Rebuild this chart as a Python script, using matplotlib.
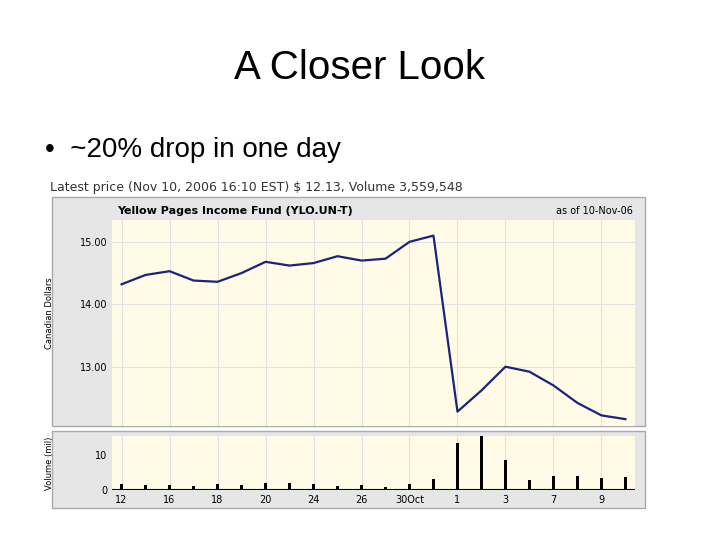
import matplotlib
matplotlib.use("Agg")
import matplotlib.pyplot as plt
from matplotlib.patches import Rectangle

# daily closes, Oct 12 - Nov 10 2006 (trading days)
price = [14.32, 14.47, 14.53, 14.38, 14.36, 14.50, 14.68, 14.62, 14.66, 14.77, 14.70,
         14.73, 15.00, 15.10, 12.28, 12.62, 13.00, 12.92, 12.70, 12.42, 12.22, 12.16]
volume = [1.7, 1.5, 1.5, 1.2, 1.7, 1.5, 2.0, 2.0, 1.7, 1.2, 1.5, 0.9, 1.7, 3.2,
          13.5, 15.5, 8.7, 2.8, 4.0, 4.0, 3.5, 3.7]
tick_idx = [0, 2, 4, 6, 8, 10, 12, 14, 16, 18, 20]
tick_lbl = ["12", "16", "18", "20", "24", "26", "30Oct", "1", "3", "7", "9"]

W, H = 720, 540
fig = plt.figure(figsize=(7.2, 5.4), dpi=100)


def box(x0, y0, x1, y1):
    return [x0 / W, 1 - y1 / H, (x1 - x0) / W, (y1 - y0) / H]


fig.text(0.5, 1 - 68 / H, "A Closer Look", ha="center", va="center", fontsize=29,
         family="Liberation Sans")
fig.text(45 / W, 1 - 150 / H, "•  ~20% drop in one day", ha="left", va="center",
         fontsize=20, family="Liberation Sans")
fig.text(50 / W, 1 - 187 / H, "Latest price (Nov 10, 2006 16:10 EST) $ 12.13, Volume 3,559,548",
         ha="left", va="center", fontsize=9, color="#333333")

for y0, y1 in [(197, 426), (431, 508)]:
    b = box(52, y0, 645, y1)
    fig.patches.append(Rectangle((b[0], b[1]), b[2], b[3], transform=fig.transFigure,
                                 facecolor="#e6e6e6", edgecolor="#aaaaaa", lw=1, zorder=-5))

fig.text(117 / W, 1 - 211 / H, "Yellow Pages Income Fund (YLO.UN-T)", fontsize=8,
         weight="bold", va="center")
fig.text(633 / W, 1 - 211 / H, "as of 10-Nov-06", fontsize=7, ha="right", va="center")

x = list(range(len(price)))
ax = fig.add_axes(box(112, 220, 635, 426))
ax.set_facecolor("#fffbe6")
ax.set_axisbelow(True)
ax.plot(x, price, color="#1a237e", lw=1.6)
ax.set_xlim(-0.4, len(price) - 0.6)
ax.set_ylim(12.05, 15.35)
ax.set_yticks([13, 14, 15])
ax.set_yticklabels(["13.00", "14.00", "15.00"], fontsize=7)
ax.set_xticks(range(0, len(price), 2))
ax.tick_params(axis="x", labelbottom=False, length=0)
ax.tick_params(axis="y", length=0)
ax.grid(True, color="#e2e2e2", lw=0.8)
for s in ax.spines.values():
    s.set_visible(False)
ax.set_ylabel("Canadian Dollars", fontsize=6)
ax.yaxis.set_label_coords(-0.11, 0.55)

axv = fig.add_axes(box(112, 436, 635, 490))
axv.set_facecolor("#fffbe6")
axv.set_axisbelow(True)
axv.bar(x, volume, width=0.14, color="black")
axv.set_xlim(-0.4, len(price) - 0.6)
axv.set_ylim(0, 15.5)
axv.set_yticks([0, 10])
axv.set_yticklabels(["0", "10"], fontsize=7)
axv.set_xticks(tick_idx)
axv.set_xticklabels(tick_lbl, fontsize=7)
axv.tick_params(axis="both", length=0)
axv.grid(True, axis="x", color="#e2e2e2", lw=0.8)
for s in axv.spines.values():
    s.set_visible(False)
axv.axhline(0, color="black", lw=1.5)
axv.set_ylabel("Volume (mil)", fontsize=6)
axv.yaxis.set_label_coords(-0.11, 0.5)

fig.savefig("out.png", dpi=100)
